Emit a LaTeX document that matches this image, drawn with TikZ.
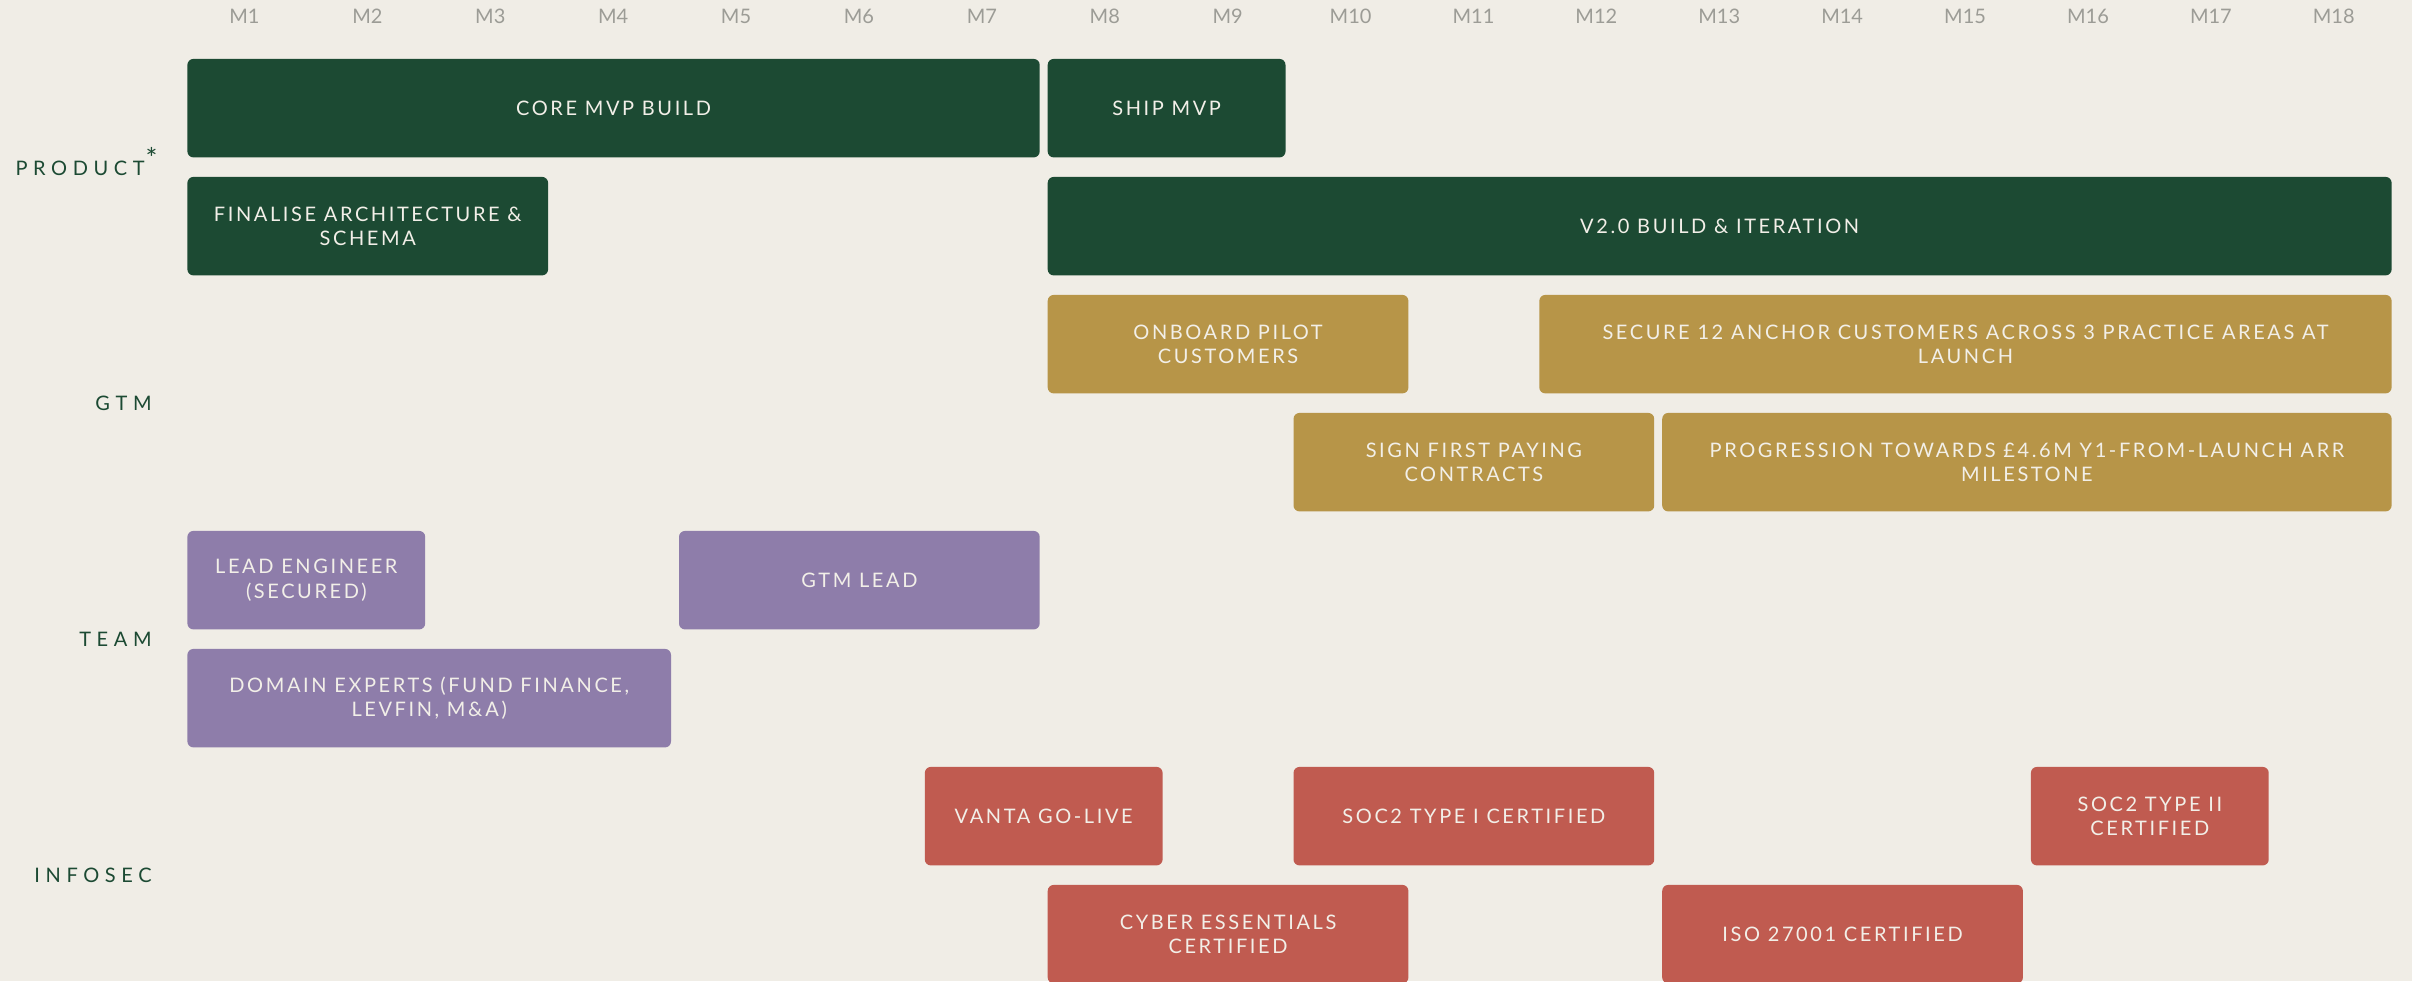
\documentclass[tikz,border=0pt]{standalone}
\usepackage{fontspec}
\setmainfont{Lato}
\newfontfamily\capsfont{Lato}[LetterSpace=13]
\newfontfamily\rowfont{Lato}[LetterSpace=28]
\usetikzlibrary{positioning}
\definecolor{roadbg}{HTML}{F0EDE6}
\definecolor{roadgreen}{HTML}{1C4A33}
\definecolor{roadgold}{HTML}{B79548}
\definecolor{roadpurple}{HTML}{8E7DAA}
\definecolor{roadred}{HTML}{C05B50}
\definecolor{roadgrey}{HTML}{9C9C96}
\definecolor{roadtext}{HTML}{F2EFE8}
% grid of the roadmap, in pixels of the original
\newcommand{\colw}{122.9}
\newcommand{\gapw}{8}
\newcommand{\xzero}{187}
\newcommand{\yzero}{58.5}
\newcommand{\rowh}{118}
\newcommand{\footmark}{\hspace{0.5pt}\raisebox{3.5pt}{\fontsize{14}{14}\selectfont *}}
\tikzset{
  task/.style={rectangle, rounded corners=3pt, align=center, text=roadtext, inner sep=2pt,
               minimum height=49.25pt, font=\capsfont\fontsize{10}{12.3}\selectfont},
  prod/.style={task, fill=roadgreen},
  gtm/.style={task, fill=roadgold},
  team/.style={task, fill=roadpurple},
  sec/.style={task, fill=roadred},
  slot/.style n args={3}{anchor=north west, minimum width={(#2*\colw-\gapw)*0.5pt},
               at={({\xzero+(#1-1)*\colw},{\yzero+#3*\rowh})}},
  month/.style={font=\fontsize{10}{11}\selectfont, text=roadgrey},
  rowlbl/.style={anchor=east, inner sep=0pt, text=roadgreen, font=\rowfont\fontsize{10}{12}\selectfont},
}

\begin{document}
\begin{tikzpicture}[x=0.5pt, y=-0.5pt]
  \fill[roadbg] (0,0) rectangle (2412,981);
  \useasboundingbox (0,0) rectangle (2412,981);
  \clip (0,0) rectangle (2412,981);

  % months
  \foreach \m in {1,...,18}
    \node[month] (m\m) at ({\xzero+(\m-1)*\colw+(\colw-\gapw)/2}, 16) {M\m};

  % row labels
  \node[rowlbl, anchor=base east] (product) at (158,175) {PRODUCT\footmark};
  \node[rowlbl] (gtmrow) at (152,403) {GTM};
  \node[rowlbl] (teamrow) at (152,639) {TEAM};
  \node[rowlbl] (infosec) at (152,875) {INFOSEC};

  % product
  \node[prod, slot={1}{7}{0}] (coremvp) {CORE MVP BUILD};
  \node[prod, slot={8}{2}{0}] (shipmvp) {SHIP MVP};
  \node[prod, slot={1}{3}{1}] (arch) {FINALISE ARCHITECTURE \&\\SCHEMA};
  \node[prod, slot={8}{11}{1}] (vtwo) {V2.0 BUILD \& ITERATION};

  % gtm
  \node[gtm, slot={8}{3}{2}] (pilot) {ONBOARD PILOT\\CUSTOMERS};
  \node[gtm, slot={12}{7}{2}] (anchor) {SECURE 12 ANCHOR CUSTOMERS ACROSS 3 PRACTICE AREAS AT\\LAUNCH};
  \node[gtm, slot={10}{3}{3}] (paying) {SIGN FIRST PAYING\\CONTRACTS};
  \node[gtm, slot={13}{6}{3}] (arr) {PROGRESSION TOWARDS £4.6M Y1-FROM-LAUNCH ARR\\MILESTONE};

  % team
  \node[team, slot={1}{2}{4}] (engineer) {LEAD ENGINEER\\(SECURED)};
  \node[team, slot={5}{3}{4}] (gtmlead) {GTM LEAD};
  \node[team, slot={1}{4}{5}] (experts) {DOMAIN EXPERTS (FUND FINANCE,\\LEVFIN, M\&A)};

  % infosec
  \node[sec, slot={7}{2}{6}] (vanta) {VANTA GO-LIVE};
  \node[sec, slot={10}{3}{6}] (socone) {SOC2 TYPE I CERTIFIED};
  \node[sec, slot={16}{2}{6}] (soctwo) {SOC2 TYPE II\\CERTIFIED};
  \node[sec, slot={8}{3}{7}] (cyber) {CYBER ESSENTIALS\\CERTIFIED};
  \node[sec, slot={13}{3}{7}] (iso) {ISO 27001 CERTIFIED};
\end{tikzpicture}
\end{document}
